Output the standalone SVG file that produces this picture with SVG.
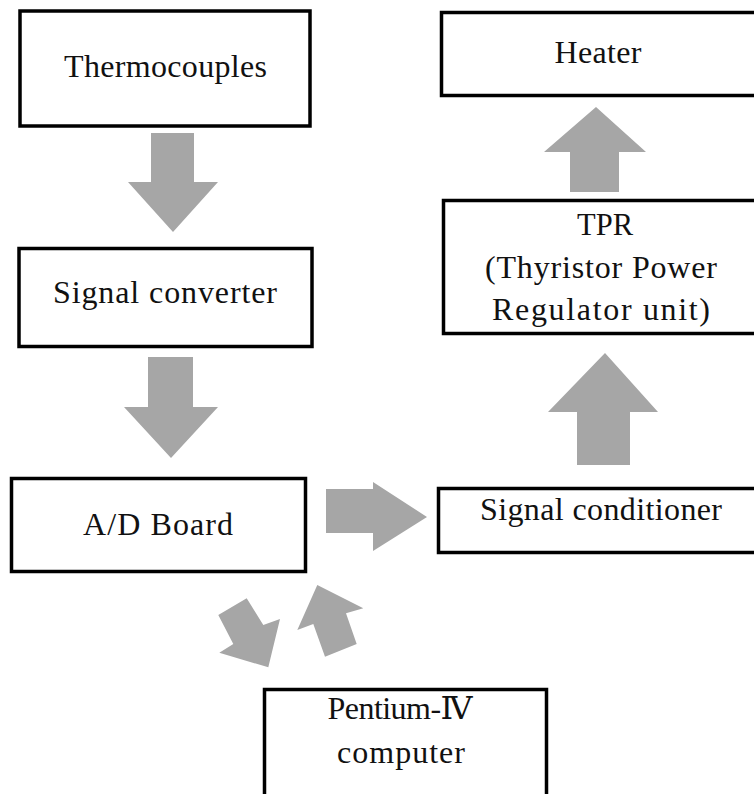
<svg xmlns="http://www.w3.org/2000/svg" width="754" height="794" viewBox="0 0 754 794">
<style>
.box{fill:#fff;stroke:#000;stroke-width:3.5}
.lbl{font-family:"Liberation Serif","DejaVu Serif","Noto Sans CJK KR",serif;font-size:32px;fill:#111;text-anchor:middle}
.arr{fill:#a6a6a6}
</style>
<rect width="754" height="794" fill="#fff"/>
<g id="connectors">
<polygon class="arr" points="151,133 194,133 194,182 218,182 173,232 128,182 151,182"/>
<polygon class="arr" points="148,357 193,357 193,407 218,407 171,458 124,407 148,407"/>
<polygon class="arr" points="326,489 373,489 373,482 427,517 373,551 373,533 326,533"/>
<polygon class="arr" points="577,465 630,465 630,412 658,412 605,353 548,412 577,412"/>
<polygon class="arr" points="570,192 619,192 619,152 646,152 596,107 544,152 570,152"/>
<polygon class="arr" points="218.3,615 246.7,598.3 263.3,625 280,619 268.3,667.3 219.3,652.7 233.3,644"/>
<polygon class="arr" points="317.3,585 363.3,608.3 346,613.3 356.7,644 325,656.7 313.3,624 297.3,630"/>
</g>
<g id="thermocouples">
<rect class="box" x="20" y="11" width="290" height="115"/>
<text class="lbl" x="165.5" y="77" textLength="203" lengthAdjust="spacing">Thermocouples</text>
</g>
<g id="signal-converter">
<rect class="box" x="19" y="248.5" width="293" height="98"/>
<text class="lbl" x="165" y="303" textLength="224" lengthAdjust="spacing">Signal converter</text>
</g>
<g id="ad-board">
<rect class="box" x="11.5" y="478.5" width="294" height="93"/>
<text class="lbl" x="158" y="535" textLength="150" lengthAdjust="spacing">A/D Board</text>
</g>
<g id="heater">
<rect class="box" x="441.5" y="12.5" width="320" height="83"/>
<text class="lbl" x="598" y="63" textLength="87" lengthAdjust="spacing">Heater</text>
</g>
<g id="tpr">
<rect class="box" x="443.5" y="200.5" width="320" height="133"/>
<text class="lbl" x="605" y="235" textLength="56" lengthAdjust="spacingAndGlyphs">TPR</text>
<text class="lbl" x="601" y="278" textLength="232" lengthAdjust="spacing">(Thyristor Power</text>
<text class="lbl" x="601" y="320" textLength="218" lengthAdjust="spacing">Regulator unit)</text>
</g>
<g id="signal-conditioner">
<rect class="box" x="438.5" y="488.5" width="320" height="64"/>
<text class="lbl" x="601" y="520" textLength="242" lengthAdjust="spacing">Signal conditioner</text>
</g>
<g id="pentium">
<rect class="box" x="264.5" y="689.5" width="282" height="120"/>
<text class="lbl" x="400" y="719" textLength="145" lengthAdjust="spacing">Pentium-Ⅳ</text>
<text class="lbl" x="401" y="763" textLength="128" lengthAdjust="spacing">computer</text>
</g>
</svg>
